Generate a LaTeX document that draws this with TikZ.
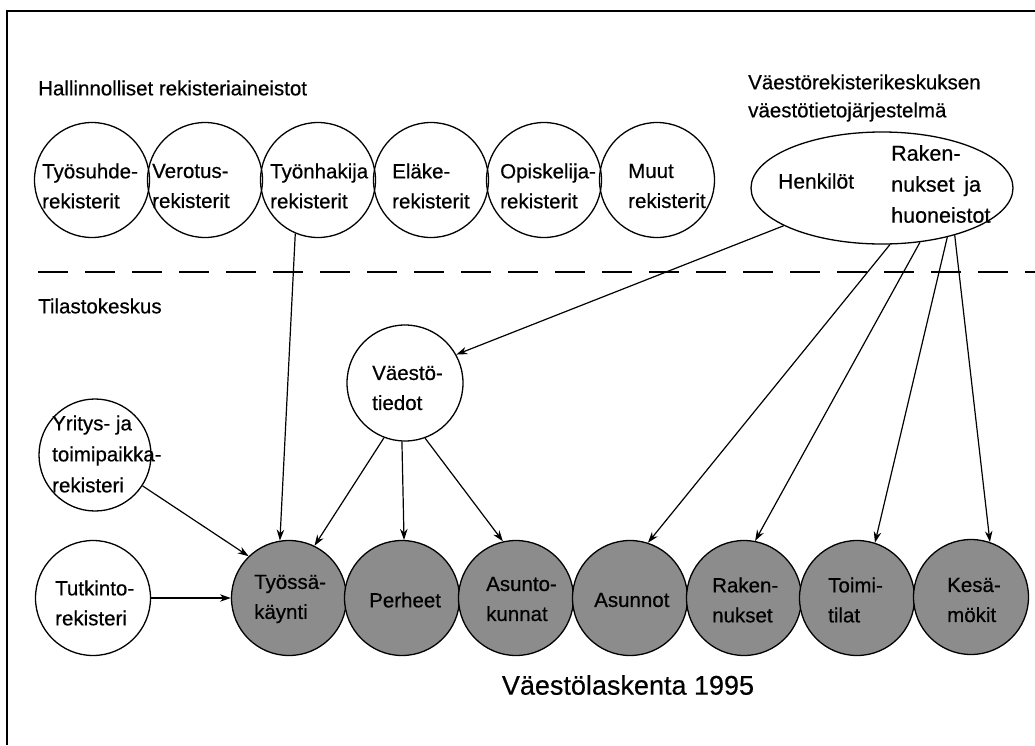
\documentclass[tikz,border=0pt]{standalone}
\usepackage{fontspec}
\setmainfont{Liberation Sans}[FakeBold=0.5]
\usetikzlibrary{arrows.meta,shapes.geometric}
\begin{document}
\begin{tikzpicture}[x=1pt,y=-1pt,
  circ/.style={circle, draw, line width=1.3pt, minimum size=115pt, inner sep=0pt},
  shadedcirc/.style={circ, fill=black!45},
  txt/.style={font=\fontsize{20.5}{30}\selectfont, align=left, inner sep=0pt, anchor=west},
  arr/.style={line width=1.2pt, -{Stealth[length=11pt,width=7.5pt]}},
  sep/.style={line width=1.3pt, dash pattern=on 30pt off 17pt},
  frame/.style={line width=2.8pt}
]
\useasboundingbox (0,0) rectangle (1035,745);
\fill[white] (0,0) rectangle (1035,745);
\draw[frame] (7,745) -- (7,11) -- (1035,11);

% headers
\node[txt] (hdr1) at (38,88) {Hallinnolliset rekisteriaineistot};
\node[txt, font=\fontsize{20.5}{28}\selectfont] (hdr2) at (748,98) {Väestörekisterikeskuksen\\väestötietojärjestelmä};
\node[txt] (hdr3) at (38,306) {Tilastokeskus};

% top row
\node[circ] (c1) at (92,180) {};
\node[circ] (c2) at (205,180) {};
\node[circ] (c3) at (318,180) {};
\node[circ] (c4) at (431,180) {};
\node[circ] (c5) at (544,180) {};
\node[circ] (c6) at (657,180) {};
\node[txt] (t1) at (42,186) {Työsuhde-\\rekisterit};
\node[txt] (t2) at (152,186) {Verotus-\\rekisterit};
\node[txt] (t3) at (270,186) {Työnhakija\\rekisterit};
\node[txt] (t4) at (392,186) {Eläke-\\rekisterit};
\node[txt] (t5) at (500,186) {Opiskelija-\\rekisterit};
\node[txt] (t6) at (628,186) {Muut\\rekisterit};

% ellipse
\node[ellipse, draw, line width=1.3pt, minimum width=262pt, minimum height=112pt, inner sep=0pt] (E) at (882,188) {};
\node[txt, font=\fontsize{21}{31}\selectfont] (th) at (778,181) {Henkilöt};
\node[txt, font=\fontsize{21.5}{31}\selectfont] (tr) at (891,184) {Raken-\\nukset\hspace{0.45em}ja\\huoneistot};

% separator
\draw[sep] (38,272) -- (1035,272);

% middle
\node[circ, minimum size=116pt] (V) at (405,383) {};
\node[txt] (tv) at (372,388) {Väestö-\\tiedot};
\node[circ, minimum size=112pt] (Y) at (95,455) {};
\node[txt, font=\fontsize{20.5}{31}\selectfont] (ty) at (52,454) {Yritys- ja\\toimipaikka-\\rekisteri};
\node[circ] (T) at (93,598) {};
\node[txt] (tt) at (55,603) {Tutkinto-\\rekisteri};

% bottom row
\node[shadedcirc] (b1) at (289,598) {};
\node[shadedcirc] (b2) at (402,598) {};
\node[shadedcirc] (b3) at (516,598) {};
\node[shadedcirc] (b4) at (630,598) {};
\node[shadedcirc] (b5) at (744,598) {};
\node[shadedcirc] (b6) at (857,598) {};
\node[shadedcirc] (b7) at (971,597) {};
\node[txt] (tb1) at (254,599) {Työssä-\\käynti};
\node[txt] (tb2) at (369,600) {Perheet};
\node[txt] (tb3) at (486,599) {Asunto-\\kunnat};
\node[txt] (tb4) at (594,600) {Asunnot};
\node[txt] (tb5) at (712,600) {Raken-\\nukset};
\node[txt] (tb6) at (828,600) {Toimi-\\tilat};
\node[txt] (tb7) at (947,600) {Kesä-\\mökit};

\node[font=\fontsize{27}{32}\selectfont, inner sep=0pt] (title) at (628,685) {Väestölaskenta 1995};

% arrows
\draw[arr] (c3.-113) -- (b1.99);
\draw[arr] (E.-159.5) -- (V.29);
\draw[arr] (V.-111) -- (b1.64);
\draw[arr] (V.-93) -- (b2.88);
\draw[arr] (V.-70) -- (b3.103);
\draw[arr] (Y.-33) -- (b1.134);
\draw[arr] (T.east) -- (b1.west);
\draw[arr] (E.-82) -- (b4.72);
\draw[arr] (E.-55) -- (b5.79);
\draw[arr] (E.-37) -- (b6.72);
\draw[arr] (E.-33) -- (b7.71);
\end{tikzpicture}
\end{document}
